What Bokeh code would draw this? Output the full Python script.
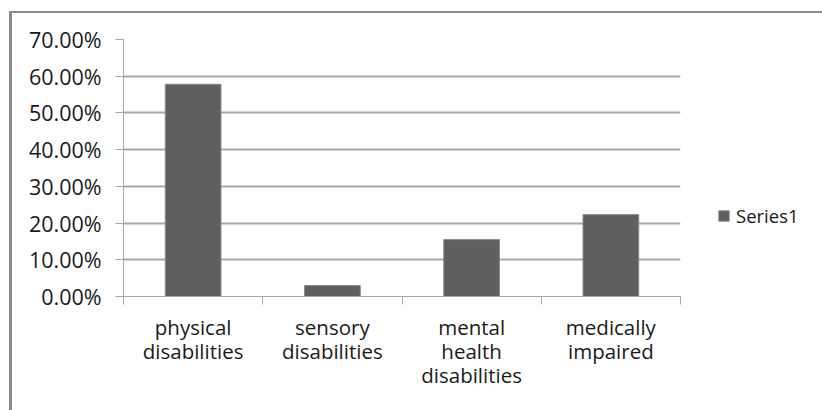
from bokeh.plotting import figure
from bokeh.models import FixedTicker, NumeralTickFormatter, Legend, LegendItem, ColumnDataSource, Range1d
from bokeh.embed import file_html
from bokeh.resources import INLINE

categories = ["physical\ndisabilities", "sensory\ndisabilities", "mental\nhealth\ndisabilities", "medically\nimpaired"]
values = [0.578, 0.030, 0.155, 0.223]
series_name = "Series1"
y_ticks = [0.0, 0.1, 0.2, 0.3, 0.4, 0.5, 0.6, 0.7]

xpos = [i + 0.5 for i in range(len(categories))]
src = ColumnDataSource(dict(x=xpos, top=values))

p = figure(frame_width=557, frame_height=257, output_backend="svg", toolbar_location=None,
           x_range=Range1d(0, len(categories)), y_range=Range1d(0, 0.7),
           min_border_left=111, min_border_top=26, min_border_right=142, min_border_bottom=114)
p.margin = (11, 0, 0, 9)
p.styles = {"border-left": "3px solid #8c8c8c", "border-top": "2px solid #8c8c8c"}
p.outline_line_color = None
p.background_fill_color = "white"
p.border_fill_color = "white"

r = p.vbar(x="x", top="top", width=0.4, bottom=0, source=src,
           fill_color="#5f5f5f", line_color="#8a8a8a", line_width=1)

font = "Open Sans"
# y axis
p.yaxis.ticker = FixedTicker(ticks=y_ticks)
p.yaxis.formatter = NumeralTickFormatter(format="0.00%")
p.yaxis.major_label_text_font = font
p.yaxis.major_label_text_font_size = "21.5px"
p.yaxis.major_label_text_color = "#1a1a1a"
p.yaxis.major_tick_out = 8
p.yaxis.major_tick_in = 0
p.yaxis.minor_tick_line_color = None
p.yaxis.major_tick_line_color = "#a8a8a8"
p.yaxis.axis_line_color = "#a8a8a8"
p.yaxis.major_label_standoff = 14

# x axis
p.xaxis.ticker = FixedTicker(ticks=xpos, minor_ticks=[float(i) for i in range(len(categories) + 1)])
p.xaxis.major_label_overrides = {x: c for x, c in zip(xpos, categories)}
p.xaxis.major_tick_line_color = None
p.xaxis.major_tick_out = 0
p.xaxis.major_tick_in = 0
p.xaxis.minor_tick_out = 8
p.xaxis.minor_tick_in = 0
p.xaxis.minor_tick_line_color = "#a8a8a8"
p.xaxis.axis_line_color = "#a8a8a8"
p.xaxis.major_label_text_font = font
p.xaxis.major_label_text_font_size = "20.5px"
p.xaxis.major_label_text_line_height = 0.86
p.xaxis.major_label_text_color = "#1a1a1a"
p.xaxis.major_label_standoff = 8

p.xgrid.grid_line_color = None
p.ygrid.ticker = FixedTicker(ticks=y_ticks)
p.ygrid.grid_line_color = "#a8a8a8"
p.ygrid.grid_line_width = 2

legend = Legend(items=[LegendItem(label=series_name, renderers=[r])], location=(37, 68),
                label_text_font=font, label_text_font_size="18.5px", label_text_color="#1a1a1a",
                border_line_color=None, background_fill_alpha=0,
                glyph_width=13, glyph_height=13, padding=0, margin=0,
                label_standoff=6)
p.add_layout(legend, "right")

open("out.html", "w").write(file_html(p, INLINE))
